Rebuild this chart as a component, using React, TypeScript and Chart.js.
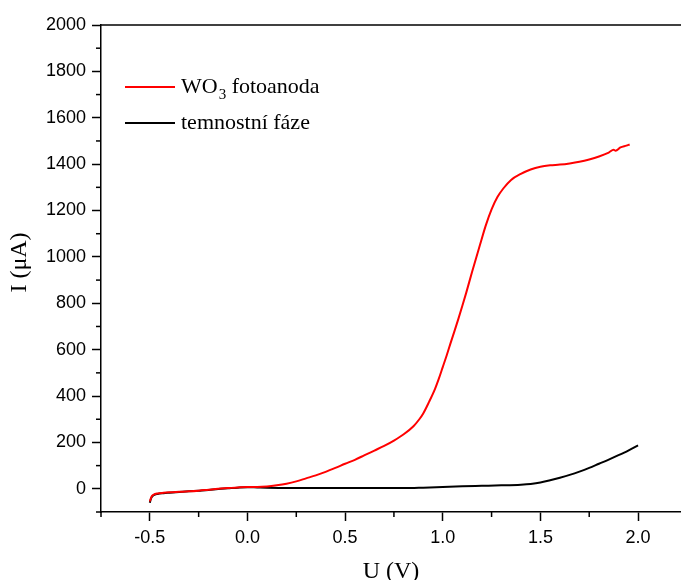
import React, { useEffect, useRef } from 'react';
import { Chart, registerables } from 'chart.js';

Chart.register(...registerables);

// ---- data ----
const wo3U = [-0.5, -0.495, -0.49, -0.48, -0.46, -0.43, -0.4, -0.35, -0.3, -0.25, -0.2, -0.15, -0.1, -0.05, 0.0, 0.05, 0.1, 0.15, 0.2, 0.25, 0.3, 0.35, 0.4, 0.45, 0.5, 0.55, 0.6, 0.65, 0.7, 0.75, 0.8, 0.85, 0.88, 0.9, 0.93, 0.96, 0.98, 1.0, 1.02, 1.04, 1.06, 1.08, 1.1, 1.12, 1.15, 1.19, 1.22, 1.25, 1.28, 1.31, 1.35, 1.4, 1.45, 1.5, 1.55, 1.6, 1.65, 1.7, 1.75, 1.8, 1.85, 1.875, 1.885, 1.91, 1.94, 1.957];
const wo3I = [-55, -42, -32, -25, -20, -17, -15, -13, -11, -8, -4, 0, 3, 6, 8, 8, 10, 15, 22, 32, 45, 58, 73, 90, 108, 125, 145, 165, 185, 208, 235, 270, 300, 325, 375, 430, 475, 525, 575, 628, 680, 733, 788, 845, 935, 1050, 1135, 1205, 1258, 1295, 1332, 1358, 1377, 1389, 1395, 1398, 1403, 1410, 1420, 1433, 1450, 1462, 1458, 1472, 1480, 1485];

const darkU = [-0.5, -0.495, -0.49, -0.48, -0.46, -0.43, -0.4, -0.35, -0.3, -0.25, -0.2, -0.15, -0.1, -0.05, 0.0, 0.05, 0.1, 0.2, 0.4, 0.6, 0.8, 0.9, 1.0, 1.1, 1.2, 1.3, 1.4, 1.45, 1.5, 1.55, 1.6, 1.65, 1.7, 1.75, 1.8, 1.85, 1.9, 1.95, 2.0];
const darkI = [-60, -45, -35, -27, -22, -19, -17, -14, -11, -8, -5, -1, 2, 5, 7, 6, 5, 4, 4, 4, 3, 5, 8, 11, 13, 15, 18, 21, 27, 37, 48, 60, 74, 90, 108, 126, 145, 165, 187];

const xTicks = [-0.75, -0.5, -0.25, 0, 0.25, 0.5, 0.75, 1.0, 1.25, 1.5, 1.75, 2.0];
const xMajor = [-0.5, 0, 0.5, 1.0, 1.5, 2.0];
const yTicks = [-100, 0, 100, 200, 300, 400, 500, 600, 700, 800, 900, 1000, 1100, 1200, 1300, 1400, 1500, 1600, 1700, 1800, 1900, 2000];
const yMajor = [0, 200, 400, 600, 800, 1000, 1200, 1400, 1600, 1800, 2000];

const legendItems = [
  { main: 'WO', sub: '3', rest: ' fotoanoda', color: '#ff0000' },
  { main: 'temnostní fáze', sub: '', rest: '', color: '#000000' },
];
const xTitle = 'U (V)';
const yTitle = 'I (μA)';

const SERIF = '"Liberation Serif", "Times New Roman", serif';
const SANS = '"Liberation Sans", Arial, sans-serif';

const isMajor = (list: number[], v: number) => list.some((m) => Math.abs(m - v) < 1e-9);

const decorPlugin = {
  id: 'decor',
  afterDraw(chart: any) {
    const { ctx, chartArea, scales } = chart;
    ctx.save();
    ctx.strokeStyle = '#000';
    ctx.lineWidth = 1.5;
    // top frame line
    ctx.beginPath();
    ctx.moveTo(chartArea.left, chartArea.top);
    ctx.lineTo(chartArea.right, chartArea.top);
    ctx.stroke();
    // minor ticks
    const minorLen = 5;
    scales.x.ticks.forEach((t: any) => {
      if (isMajor(xMajor, t.value)) return;
      const px = scales.x.getPixelForValue(t.value);
      ctx.beginPath();
      ctx.moveTo(px, chartArea.bottom);
      ctx.lineTo(px, chartArea.bottom + minorLen);
      ctx.stroke();
    });
    scales.y.ticks.forEach((t: any) => {
      if (isMajor(yMajor, t.value)) return;
      const py = scales.y.getPixelForValue(t.value);
      ctx.beginPath();
      ctx.moveTo(chartArea.left, py);
      ctx.lineTo(chartArea.left - minorLen, py);
      ctx.stroke();
    });
    // axis titles
    ctx.fillStyle = '#000';
    ctx.font = `24px ${SERIF}`;
    ctx.textAlign = 'center';
    ctx.textBaseline = 'middle';
    ctx.fillText(xTitle, (chartArea.left + chartArea.right) / 2, 572);
    ctx.save();
    ctx.translate(20, (chartArea.top + chartArea.bottom) / 2 - 6);
    ctx.rotate(-Math.PI / 2);
    ctx.fillText(yTitle, 0, 0);
    ctx.restore();
    // legend
    const lx = chartArea.left + 24;
    let ly = chartArea.top + 62;
    ctx.textAlign = 'left';
    legendItems.forEach((item) => {
      ctx.strokeStyle = item.color;
      ctx.lineWidth = 2;
      ctx.beginPath();
      ctx.moveTo(lx, ly);
      ctx.lineTo(lx + 50, ly);
      ctx.stroke();
      let tx = lx + 56;
      ctx.font = `22px ${SERIF}`;
      ctx.fillStyle = '#000';
      ctx.fillText(item.main, tx, ly);
      tx += ctx.measureText(item.main).width;
      if (item.sub) {
        ctx.font = `15px ${SERIF}`;
        ctx.fillText(item.sub, tx + 1, ly + 8);
        tx += ctx.measureText(item.sub).width + 1;
        ctx.font = `22px ${SERIF}`;
      }
      if (item.rest) ctx.fillText(item.rest, tx, ly);
      ly += 36;
    });
    ctx.restore();
  },
};

export default function App() {
  const ref = useRef<HTMLCanvasElement | null>(null);
  useEffect(() => {
    if (!ref.current) return;
    const chart = new Chart(ref.current, {
      type: 'line',
      data: {
        datasets: [
          {
            label: 'WO3 fotoanoda',
            data: wo3U.map((u, i) => ({ x: u, y: wo3I[i] })),
            borderColor: '#ff0000',
            borderWidth: 2,
            pointRadius: 0,
            tension: 0.4,
            cubicInterpolationMode: 'monotone',
            fill: false,
          },
          {
            label: 'temnostní fáze',
            data: darkU.map((u, i) => ({ x: u, y: darkI[i] })),
            borderColor: '#000000',
            borderWidth: 2,
            pointRadius: 0,
            tension: 0.4,
            cubicInterpolationMode: 'monotone',
            fill: false,
          },
        ],
      },
      options: {
        responsive: false,
        animation: false,
        devicePixelRatio: 1,
        layout: { padding: { top: 25, right: 0, left: 0, bottom: 0 } },
        plugins: { legend: { display: false }, tooltip: { enabled: false } },
        scales: {
          x: {
            type: 'linear',
            min: -0.75,
            max: 2.22,
            afterBuildTicks: (s: any) => {
              s.ticks = xTicks.map((v) => ({ value: v }));
            },
            afterFit: (s: any) => {
              s.height = 68;
            },
            border: { color: '#000', width: 1.5 },
            grid: {
              drawOnChartArea: false,
              tickLength: 9,
              tickWidth: 1.5,
              tickColor: (c: any) => (c.tick && isMajor(xMajor, c.tick.value) ? '#000' : 'rgba(0,0,0,0)'),
            },
            ticks: {
              autoSkip: false,
              maxRotation: 0,
              padding: 6,
              color: '#000',
              font: { family: SANS, size: 18 },
              callback: (v: any) => (isMajor(xMajor, Number(v)) ? Number(v).toFixed(1) : ''),
            },
          },
          y: {
            type: 'linear',
            min: -100,
            max: 2000,
            afterBuildTicks: (s: any) => {
              s.ticks = yTicks.map((v) => ({ value: v }));
            },
            afterFit: (s: any) => {
              s.width = 101;
            },
            border: { color: '#000', width: 1.5 },
            grid: {
              drawOnChartArea: false,
              tickLength: 9,
              tickWidth: 1.5,
              tickColor: (c: any) => (c.tick && isMajor(yMajor, c.tick.value) ? '#000' : 'rgba(0,0,0,0)'),
            },
            ticks: {
              autoSkip: false,
              padding: 6,
              color: '#000',
              font: { family: SANS, size: 18 },
              callback: (v: any) => (isMajor(yMajor, Number(v)) ? String(v) : ''),
            },
          },
        },
      },
      plugins: [decorPlugin],
    } as any);
    return () => chart.destroy();
  }, []);
  return (
    <div style={{ position: 'fixed', left: 0, top: 0, width: 681, height: 580, background: '#fff' }}>
      <canvas ref={ref} width={681} height={580} style={{ display: 'block' }} />
    </div>
  );
}
